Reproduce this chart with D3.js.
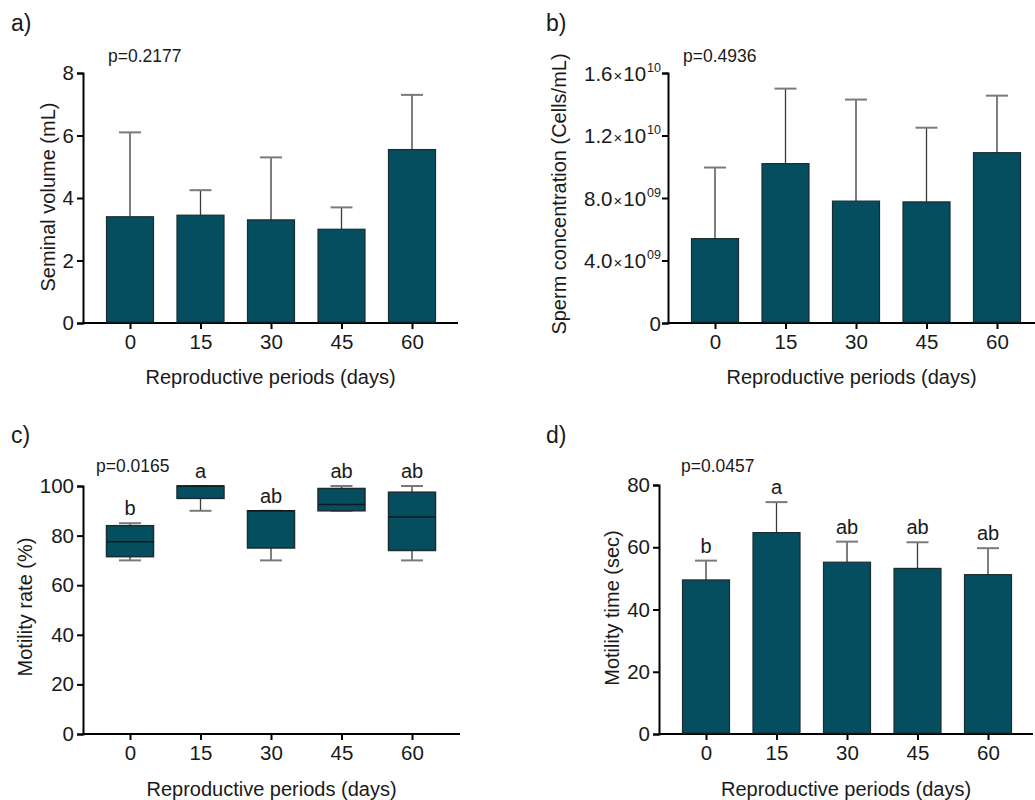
<!DOCTYPE html>
<html>
<head>
<meta charset="utf-8">
<script src="https://cdn.jsdelivr.net/npm/d3@7"></script>
<style>
  body { margin: 0; background: #fff; }
  svg { display: block; font-family: "Liberation Sans", Arial, Helvetica, sans-serif; }
</style>
</head>
<body>
<svg id="fig" width="1035" height="800"></svg>
<script>
// Reproductive periods (days) sampled for every variable
const days = ["0", "15", "30", "45", "60"];

// a) Seminal volume (mL): mean and upper SD
const volumeMean = [3.4, 3.45, 3.3, 3.0, 5.55];
const volumeSD   = [2.7, 0.8, 2.0, 0.7, 1.75];

// b) Sperm concentration (cells/mL): mean and upper SD
const concMean = [5.4e9, 10.2e9, 7.8e9, 7.75e9, 10.9e9];
const concSD   = [4.55e9, 4.8e9, 6.5e9, 4.75e9, 3.65e9];

// c) Motility rate (%): box plot summaries
const motMin    = [70, 90, 70, 90, 70];
const motQ1     = [71.5, 95, 75, 90, 74];
const motMedian = [77.5, 100, 90, 92.5, 87.5];
const motQ3     = [84, 100, 90, 99, 97.5];
const motMax    = [85, 100, 90, 100, 100];
const motLetters = ["b", "a", "ab", "ab", "ab"];

// d) Motility time (sec): mean and upper SD
const timeMean = [49.5, 64.7, 55.2, 53.2, 51.2];
const timeSD   = [6.2, 9.8, 6.6, 8.4, 8.5];
const timeLetters = ["b", "a", "ab", "ab", "ab"];

// Tick values
const volumeTicks = [0, 2, 4, 6, 8];
const concTicks = [0, 4e9, 8e9, 1.2e10, 1.6e10];
const motTicks = [0, 20, 40, 60, 80, 100];
const timeTicks = [0, 20, 40, 60, 80];

const BAR_FILL = "#054e5f";
const BAR_STROKE = "#1d2c31";
const TEXT = "#1a1a1a";
const BAR_W = 47;
const CAP_HALF = 11;
const TICK_FONT = 20.5;

const svg = d3.select("#fig");

function setupPanel(o) {
  const g = svg.append("g");
  const x = d3.scalePoint().domain(days).range([o.axisX + 47, o.axisX + 329]);
  const y = d3.scaleLinear().domain(o.domain).range([o.y0, o.yTop]);

  // y axis
  const yAxis = d3.axisLeft(y).tickValues(o.ticks).tickSizeOuter(0).tickSize(6).tickPadding(3);
  if (o.tickFormat) yAxis.tickFormat(o.tickFormat);
  const ya = g.append("g").attr("class", "y-axis").attr("transform", `translate(${o.axisX},0)`).call(yAxis);
  ya.select(".domain").attr("stroke", "#000").attr("stroke-width", 2);
  ya.selectAll(".tick line").attr("stroke", "#000").attr("stroke-width", 2);
  ya.selectAll(".tick text").attr("font-size", TICK_FONT).attr("fill", TEXT)
    .attr("font-family", "Liberation Sans, Arial, sans-serif");

  // x axis
  const xAxis = d3.axisBottom(x).tickSize(6).tickPadding(5);
  const xa = g.append("g").attr("transform", `translate(0,${o.y0})`).call(xAxis);
  xa.select(".domain").remove();
  xa.selectAll(".tick line").attr("stroke", "#000").attr("stroke-width", 2);
  xa.selectAll(".tick text").attr("font-size", TICK_FONT).attr("fill", TEXT)
    .attr("font-family", "Liberation Sans, Arial, sans-serif");
  g.append("line")
    .attr("x1", o.axisX - 1).attr("x2", o.axisEnd)
    .attr("y1", o.y0).attr("y2", o.y0)
    .attr("stroke", "#000").attr("stroke-width", 2);

  // titles
  g.append("text")
    .attr("x", (o.axisX + o.axisEnd) / 2).attr("y", o.xTitleY)
    .attr("text-anchor", "middle").attr("font-size", 20).attr("fill", TEXT)
    .text("Reproductive periods (days)");
  g.append("text")
    .attr("transform", `translate(${o.yTitleX},${o.yTitleCY}) rotate(-90)`)
    .attr("text-anchor", "middle").attr("dy", "0.35em")
    .attr("font-size", 20).attr("fill", TEXT)
    .text(o.yTitle);
  g.append("text")
    .attr("x", o.pX).attr("y", o.pY)
    .attr("font-size", 17.5).attr("fill", TEXT)
    .text(o.pText);
  g.append("text")
    .attr("x", o.labX).attr("y", o.labY)
    .attr("font-size", 23).attr("fill", TEXT)
    .text(o.label);
  return { g, ya, x, y };
}

function drawBars(p, mean, sd, letters) {
  const { g, x, y } = p;
  const data = days.map((d, i) => ({ d, m: mean[i], s: sd[i], l: letters ? letters[i] : null }));
  // error bars (upper only), drawn behind bars
  g.selectAll(".err").data(data).join("line")
    .attr("x1", d => x(d.d)).attr("x2", d => x(d.d))
    .attr("y1", d => y(d.m)).attr("y2", d => y(d.m + d.s))
    .attr("stroke", "#3a3a3a").attr("stroke-width", 1.3);
  g.selectAll(".cap").data(data).join("line")
    .attr("x1", d => x(d.d) - CAP_HALF).attr("x2", d => x(d.d) + CAP_HALF)
    .attr("y1", d => y(d.m + d.s)).attr("y2", d => y(d.m + d.s))
    .attr("stroke", "#7a7a7a").attr("stroke-width", 2);
  g.selectAll(".bar").data(data).join("rect")
    .attr("x", d => x(d.d) - BAR_W / 2).attr("width", BAR_W)
    .attr("y", d => y(d.m)).attr("height", d => y(0) - y(d.m) - 1)
    .attr("fill", BAR_FILL).attr("stroke", BAR_STROKE).attr("stroke-width", 1.2);
  if (letters) {
    g.selectAll(".letter").data(data).join("text")
      .attr("x", d => x(d.d)).attr("y", d => y(d.m + d.s) - 8)
      .attr("text-anchor", "middle").attr("font-size", 20).attr("fill", TEXT)
      .text(d => d.l);
  }
}

function drawBoxes(p) {
  const { g, x, y } = p;
  const data = days.map((d, i) => ({
    d, min: motMin[i], q1: motQ1[i], med: motMedian[i], q3: motQ3[i], max: motMax[i], l: motLetters[i]
  }));
  // whiskers
  g.selectAll(".wh-up").data(data).join("line")
    .attr("x1", d => x(d.d)).attr("x2", d => x(d.d))
    .attr("y1", d => y(d.q3)).attr("y2", d => y(d.max))
    .attr("stroke", "#3a3a3a").attr("stroke-width", 1.3);
  g.selectAll(".wh-dn").data(data).join("line")
    .attr("x1", d => x(d.d)).attr("x2", d => x(d.d))
    .attr("y1", d => y(d.q1)).attr("y2", d => y(d.min))
    .attr("stroke", "#3a3a3a").attr("stroke-width", 1.3);
  ["max", "min"].forEach(k => {
    g.selectAll(".cap-" + k).data(data).join("line")
      .attr("x1", d => x(d.d) - CAP_HALF).attr("x2", d => x(d.d) + CAP_HALF)
      .attr("y1", d => y(d[k])).attr("y2", d => y(d[k]))
      .attr("stroke", "#7a7a7a").attr("stroke-width", 2);
  });
  g.selectAll(".box").data(data).join("rect")
    .attr("x", d => x(d.d) - BAR_W / 2).attr("width", BAR_W)
    .attr("y", d => y(d.q3)).attr("height", d => y(d.q1) - y(d.q3))
    .attr("fill", BAR_FILL).attr("stroke", BAR_STROKE).attr("stroke-width", 1.5);
  g.selectAll(".med").data(data).join("line")
    .attr("x1", d => x(d.d) - BAR_W / 2).attr("x2", d => x(d.d) + BAR_W / 2)
    .attr("y1", d => y(d.med)).attr("y2", d => y(d.med))
    .attr("stroke", "#101a1d").attr("stroke-width", 1.5);
  g.selectAll(".letter").data(data).join("text")
    .attr("x", d => x(d.d)).attr("y", d => y(d.max) - 8)
    .attr("text-anchor", "middle").attr("font-size", 20).attr("fill", TEXT)
    .text(d => d.l);
}

// a) Seminal volume
const pa = setupPanel({
  axisX: 83, axisEnd: 458, y0: 323, yTop: 73, domain: [0, 8], ticks: volumeTicks,
  xTitleY: 384, yTitle: "Seminal volume (mL)", yTitleX: 48, yTitleCY: 197,
  pText: "p=0.2177", pX: 108, pY: 62, label: "a)", labX: 11, labY: 31
});
drawBars(pa, volumeMean, volumeSD, null);

// b) Sperm concentration, scientific tick labels (mantissa × 10^exp)
const pb = setupPanel({
  axisX: 668, axisEnd: 1035, y0: 323, yTop: 73, domain: [0, 1.6e10], ticks: concTicks,
  tickFormat: () => "",
  xTitleY: 384, yTitle: "Sperm concentration (Cells/mL)", yTitleX: 559, yTitleCY: 194,
  pText: "p=0.4936", pX: 683, pY: 62, label: "b)", labX: 546, labY: 31
});
pb.ya.selectAll(".tick").each(function (v) {
  const t = d3.select(this).select("text");
  t.attr("x", -7).attr("dy", "0.35em").attr("text-anchor", "end");
  if (v === 0) { t.text("0"); return; }
  const exp = Math.floor(Math.log10(v));
  const mant = (v / Math.pow(10, exp)).toFixed(1);
  t.text(null);
  t.append("tspan").text(mant);
  t.append("tspan").attr("font-size", 15).attr("dx", 1).text("×");
  t.append("tspan").attr("dx", 1).text("10");
  t.append("tspan").attr("font-size", 12.5).attr("dy", "-0.7em").attr("dx", 1)
    .text(String(exp).padStart(2, "0"));
});
drawBars(pb, concMean, concSD, null);

// c) Motility rate (box plot)
const pc = setupPanel({
  axisX: 83, axisEnd: 460, y0: 734, yTop: 486, domain: [0, 100], ticks: motTicks,
  xTitleY: 796, yTitle: "Motility rate (%)", yTitleX: 25, yTitleCY: 607,
  pText: "p=0.0165", pX: 96, pY: 472, label: "c)", labX: 11, labY: 443
});
drawBoxes(pc);

// d) Motility time
const pd = setupPanel({
  axisX: 659, axisEnd: 1033, y0: 734, yTop: 485, domain: [0, 80], ticks: timeTicks,
  xTitleY: 796, yTitle: "Motility time (sec)", yTitleX: 612, yTitleCY: 608,
  pText: "p=0.0457", pX: 681, pY: 472, label: "d)", labX: 546, labY: 443
});
drawBars(pd, timeMean, timeSD, timeLetters);
</script>
</body>
</html>
